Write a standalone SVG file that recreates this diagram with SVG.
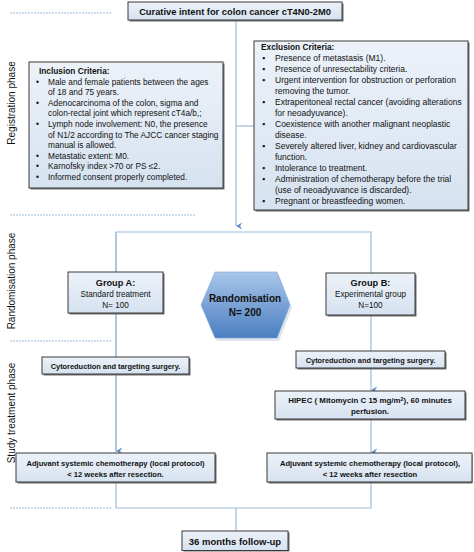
<svg xmlns="http://www.w3.org/2000/svg" width="474" height="552" viewBox="0 0 474 552">
<defs>
<linearGradient id="boxg" x1="0" y1="0" x2="0" y2="1">
<stop offset="0" stop-color="#edf2f9"/>
<stop offset="1" stop-color="#d6e2f0"/>
</linearGradient>
<linearGradient id="hexg" x1="0" y1="0" x2="0" y2="1">
<stop offset="0" stop-color="#a9c6ea"/>
<stop offset="1" stop-color="#4a7fc0"/>
</linearGradient>
<marker id="arr" viewBox="0 0 10 10" refX="5" refY="9" markerWidth="9" markerHeight="9" orient="auto-start-reverse" markerUnits="userSpaceOnUse">
<path d="M1,2 L5,4.5 L9,2 L5,9 Z" fill="#5b8cc8"/>
</marker>
</defs>
<style>
text{font-family:"Liberation Sans",Arial,sans-serif;fill:#111}
.b{font-weight:bold}
.c{text-anchor:middle}
.ph{font-size:10px;fill:#111;text-anchor:middle}
.sh{fill:#6f6f6f}
.box{fill:url(#boxg);stroke:#3a3a3a;stroke-width:1}
.ln{fill:none;stroke:#9dbbdc;stroke-width:1.2}
.dash{fill:none;stroke:#9dbbdc;stroke-width:1;stroke-dasharray:2,1}
.cr{font-size:8.3px}
.ex{font-size:8.5px}
</style>

<g id="phases">
<line class="dash" x1="10" y1="13" x2="112" y2="13"/>
<line class="dash" x1="10" y1="215" x2="196" y2="215"/>
<line class="dash" x1="10" y1="341" x2="112" y2="341"/>
<line class="dash" x1="10" y1="508" x2="112" y2="508"/>
<text class="ph" transform="translate(15,103) rotate(-90)">Registration phase</text>
<text class="ph" transform="translate(15,281) rotate(-90)">Randomisation phase</text>
<text class="ph" transform="translate(15,413) rotate(-90)">Study treatment phase</text>
</g>

<g id="connectors">
<path class="ln" d="M236,20 V226" marker-end="url(#arr)"/>
<path class="ln" d="M236,126 H254"/>
<path class="ln" d="M116,452 V232 H371 V351"/>
<path class="ln" d="M116,232 V451" marker-end="url(#arr)"/>
<path class="ln" d="M371,368 V390" marker-end="url(#arr)"/>
<path class="ln" d="M371,419 V452" marker-end="url(#arr)"/>
<path class="ln" d="M116,482 V508 H371 V482"/>
<path class="ln" d="M236,508 V531"/>
</g>

<g id="title">
<rect class="sh" x="129.5" y="3.5" width="214" height="18"/>
<rect class="box" x="128" y="2" width="214" height="18"/>
<text class="b c" x="235" y="14.5" font-size="9.3">Curative intent for colon cancer cT4N0-2M0</text>
</g>

<g id="inclusion">
<rect class="sh" x="30.5" y="63.5" width="194" height="126"/>
<rect class="box" x="29" y="62" width="194" height="126"/>
<text class="b" x="39" y="74" font-size="8.3">Inclusion Criteria:</text>
<g class="cr">
<text x="36" y="84.6">•</text><text x="48" y="84.6">Male and female patients between the ages</text>
<text x="48" y="95.2">of 18 and 75 years.</text>
<text x="36" y="105.8">•</text><text x="48" y="105.8">Adenocarcinoma of the colon, sigma and</text>
<text x="48" y="116.4">colon-rectal joint which represent cT4a/b,;</text>
<text x="36" y="127">•</text><text x="48" y="127">Lymph node involvement: N0, the presence</text>
<text x="48" y="137.6">of N1/2 according to The AJCC cancer staging</text>
<text x="48" y="148.2">manual is allowed.</text>
<text x="36" y="158.8">•</text><text x="48" y="158.8">Metastatic extent: M0.</text>
<text x="36" y="169.4">•</text><text x="48" y="169.4">Karnofsky index &gt;70 or PS ≤2.</text>
<text x="36" y="180">•</text><text x="48" y="180">Informed consent properly completed.</text>
</g>
</g>

<g id="exclusion">
<rect class="sh" x="255.5" y="42.5" width="214" height="169"/>
<rect class="box" x="254" y="41" width="214" height="169"/>
<text class="b" x="261" y="50" font-size="8.3">Exclusion Criteria:</text>
<g class="ex">
<text x="262" y="61">▪</text><text x="275" y="61">Presence of metastasis (M1).</text>
<text x="262" y="72">▪</text><text x="275" y="72">Presence of unresectability criteria.</text>
<text x="262" y="83">▪</text><text x="275" y="83">Urgent intervention for obstruction or perforation</text>
<text x="275" y="94">removing the tumor.</text>
<text x="262" y="105">▪</text><text x="275" y="105">Extraperitoneal rectal cancer (avoiding alterations</text>
<text x="275" y="116">for neoadyuvance).</text>
<text x="262" y="127">▪</text><text x="275" y="127">Coexistence with another malignant neoplastic</text>
<text x="275" y="138">disease.</text>
<text x="262" y="149">▪</text><text x="275" y="149">Severely altered liver, kidney and cardiovascular</text>
<text x="275" y="160">function.</text>
<text x="262" y="171">▪</text><text x="275" y="171">Intolerance to treatment.</text>
<text x="262" y="182">▪</text><text x="275" y="182">Administration of chemotherapy before the trial</text>
<text x="275" y="193">(use of neoadyuvance is discarded).</text>
<text x="262" y="204">▪</text><text x="275" y="204">Pregnant or breastfeeding women.</text>
</g>
</g>

<g id="groupA">
<rect class="sh" x="69.5" y="273.5" width="95" height="41"/>
<rect class="box" x="68" y="272" width="95" height="41"/>
<text class="b c" x="115.5" y="286" font-size="9.2">Group A:</text>
<text class="c" x="115.5" y="297" font-size="8.2">Standard treatment</text>
<text class="c" x="115.5" y="308" font-size="8.2">N= 100</text>
</g>

<g id="randomisation">
<polygon points="217,275 279,275 292,308 279,341 217,341 203,308" fill="#c9d3df" opacity="0.6"/>
<polygon points="215,272 277,272 290,305 277,338 215,338 201,305" fill="url(#hexg)" stroke="#7fa6d6" stroke-width="0.6"/>
<text class="b c" x="245" y="302" font-size="10">Randomisation</text>
<text class="b c" x="245" y="316" font-size="10">N= 200</text>
</g>

<g id="groupB">
<rect class="sh" x="327.5" y="274.5" width="89" height="42"/>
<rect class="box" x="326" y="273" width="89" height="42"/>
<text class="b c" x="370.5" y="286" font-size="9.2">Group B:</text>
<text class="c" x="370.5" y="297" font-size="8.2">Experimental group</text>
<text class="c" x="370.5" y="308" font-size="8.2">N=100</text>
</g>

<g id="cytoA">
<rect class="sh" x="43.5" y="358.5" width="147" height="17"/>
<rect class="box" x="42" y="357" width="147" height="17"/>
<text class="b c" x="115.5" y="368.5" font-size="7.4">Cytoreduction and targeting surgery.</text>
</g>

<g id="cytoB">
<rect class="sh" x="297.5" y="352.5" width="149" height="17"/>
<rect class="box" x="296" y="351" width="149" height="17"/>
<text class="b c" x="370.5" y="362.5" font-size="7.4">Cytoreduction and targeting surgery.</text>
</g>

<g id="hipec">
<rect class="sh" x="276.5" y="392.5" width="190" height="28"/>
<rect class="box" x="275" y="391" width="190" height="28"/>
<text class="b c" x="370" y="403" font-size="7.9">HIPEC ( Mitomycin C 15 mg/m<tspan font-size="5.5" dy="-2.5">2</tspan><tspan dy="2.5">), 60 minutes</tspan></text>
<text class="b c" x="370" y="413.5" font-size="7.9">perfusion.</text>
</g>

<g id="adjA">
<rect class="sh" x="17.5" y="454.5" width="199" height="29"/>
<rect class="box" x="16" y="453" width="199" height="29"/>
<text class="b c" x="115.5" y="466" font-size="7.6">Adjuvant systemic chemotherapy (local protocol)</text>
<text class="b c" x="115.5" y="476.5" font-size="7.6">&lt; 12 weeks after resection.</text>
</g>

<g id="adjB">
<rect class="sh" x="268.5" y="454.5" width="204" height="29"/>
<rect class="box" x="267" y="453" width="205" height="29"/>
<text class="b c" x="370" y="466" font-size="7.6">Adjuvant systemic chemotherapy (local protocol),</text>
<text class="b c" x="370" y="476.5" font-size="7.6">&lt; 12 weeks after resection</text>
</g>

<g id="followup">
<rect class="sh" x="183.5" y="532.5" width="106" height="19"/>
<rect class="box" x="182" y="531" width="106" height="19.5"/>
<text class="b c" x="235" y="544.5" font-size="9.5">36 months follow-up</text>
</g>
</svg>
